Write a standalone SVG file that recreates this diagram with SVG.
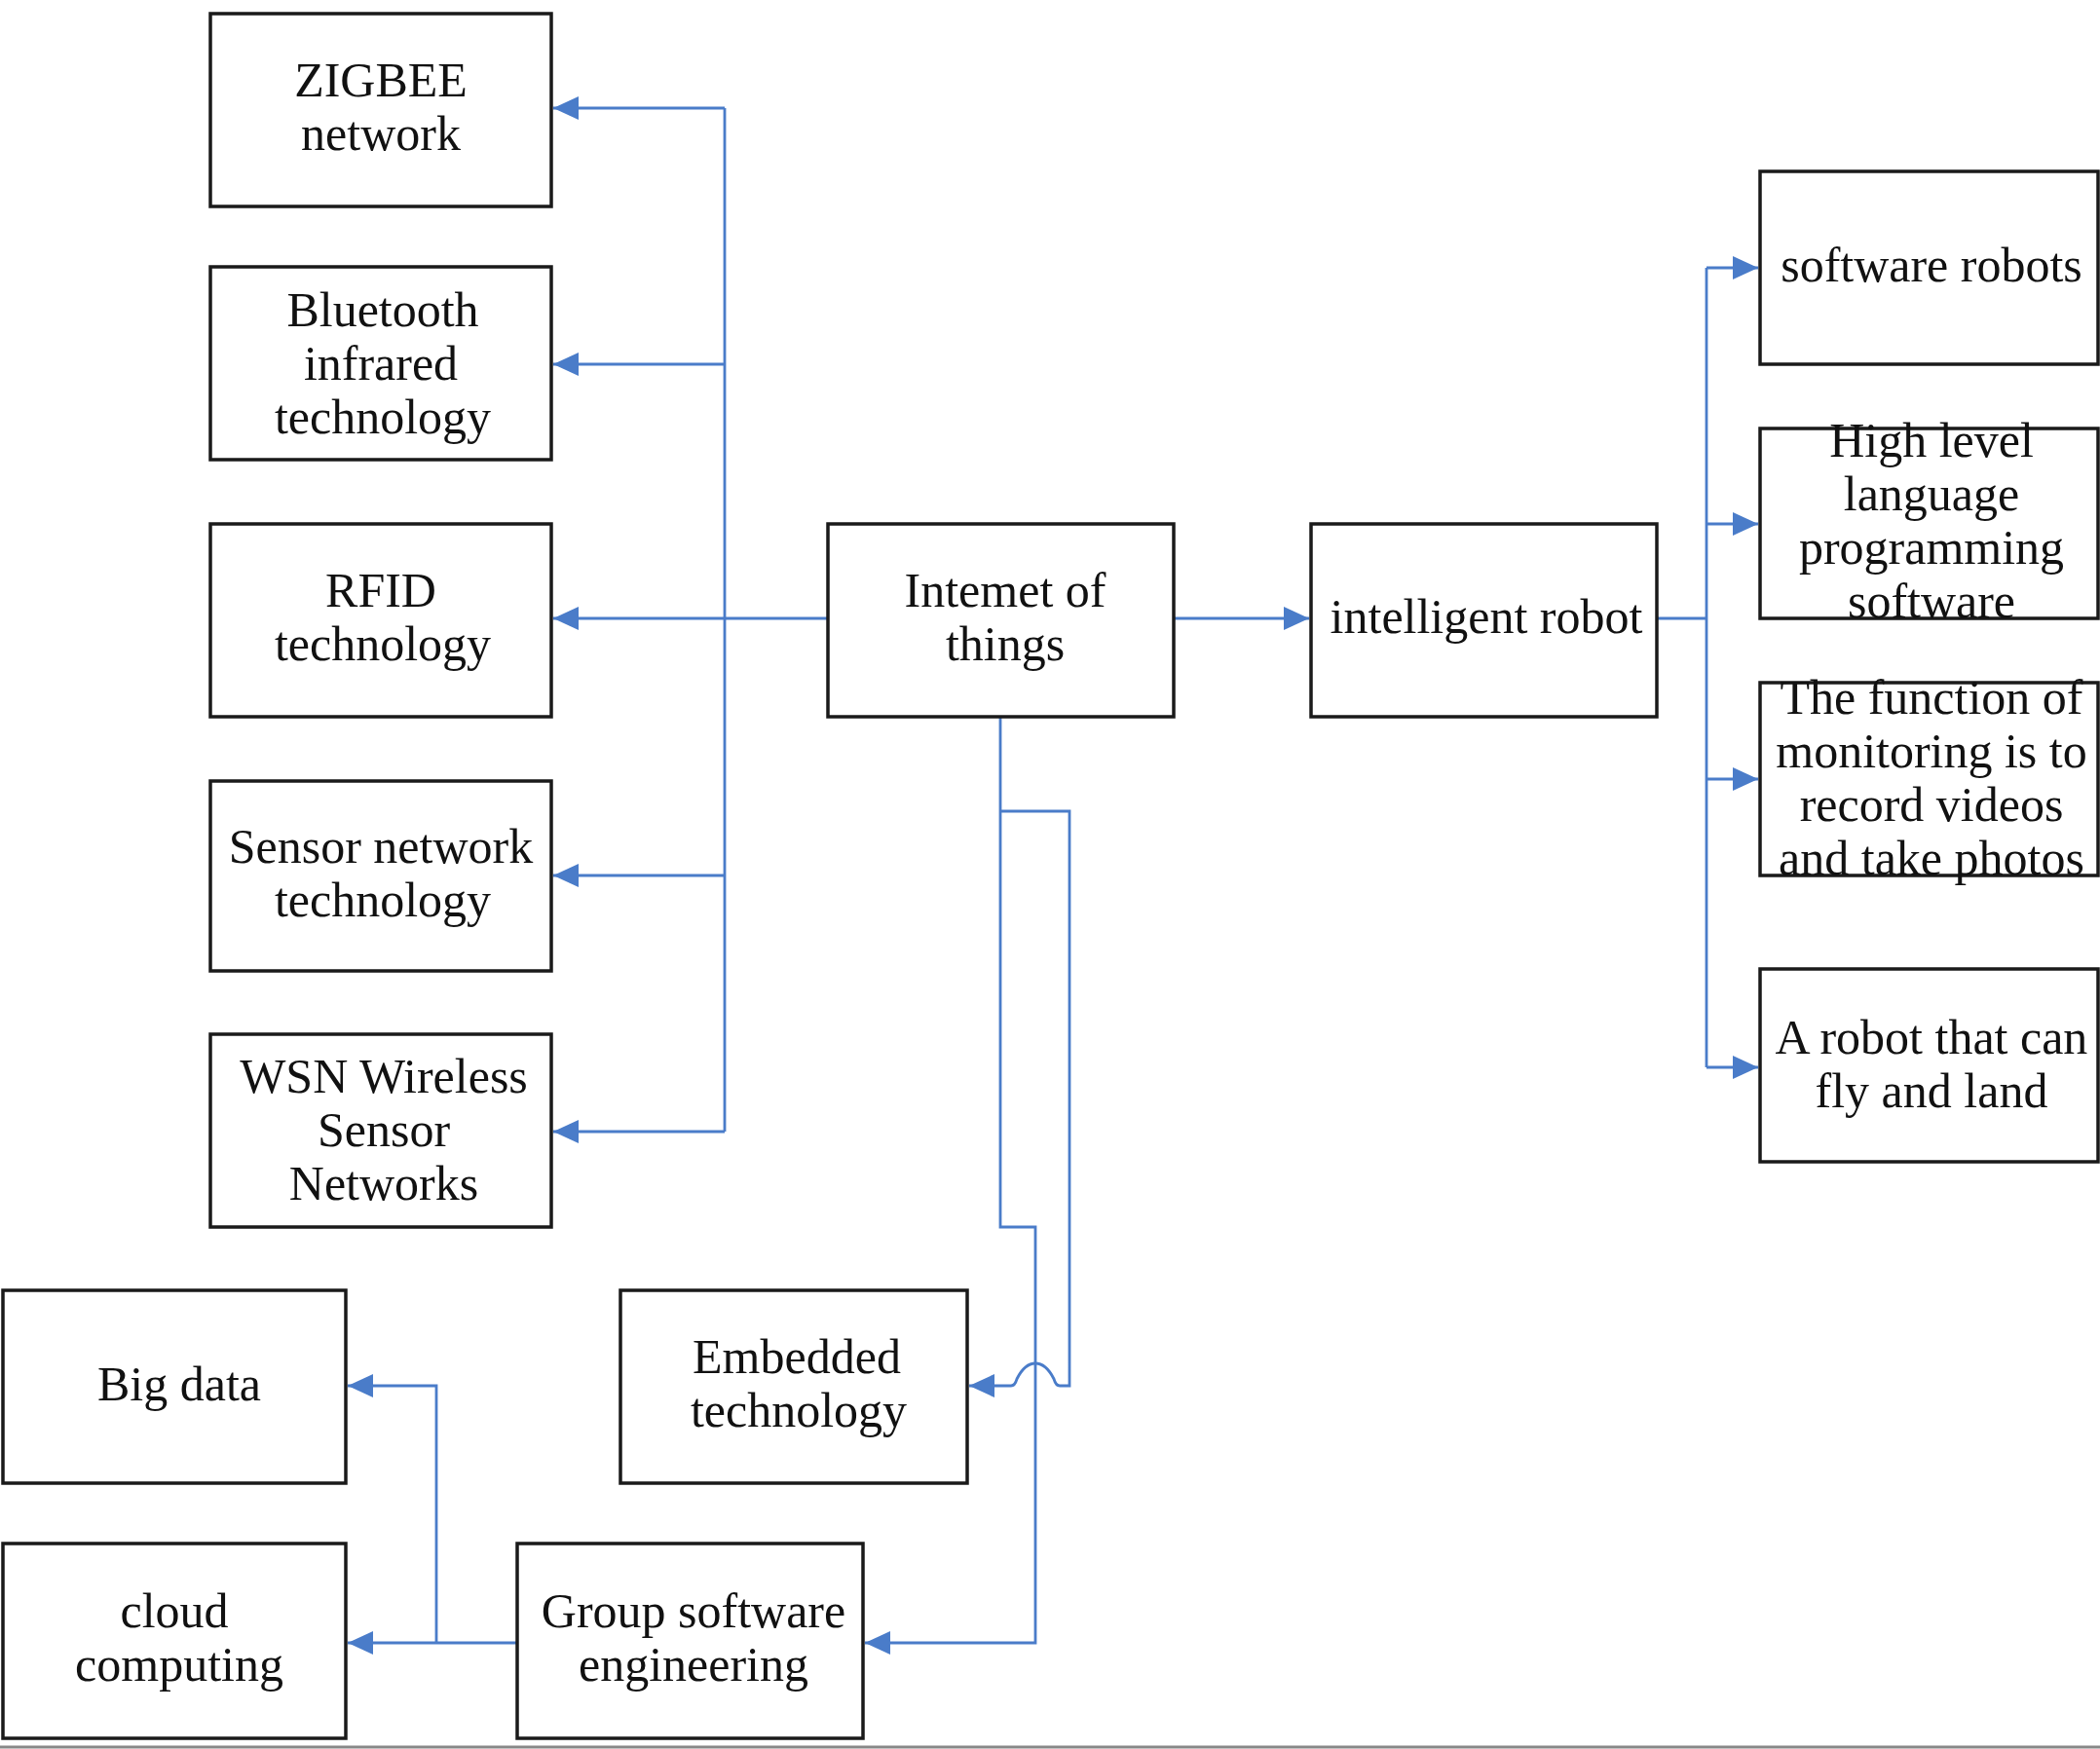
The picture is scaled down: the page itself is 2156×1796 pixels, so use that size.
<svg xmlns="http://www.w3.org/2000/svg" width="2156" height="1796" viewBox="0 0 2156 1796">
<style>
.box{fill:#fff;stroke:#1a1a1a;stroke-width:3.5}
.t{font-family:"Liberation Serif","Times New Roman",serif;font-size:50px;fill:#111;text-anchor:middle}
.c{fill:none;stroke:#4a7cc9;stroke-width:2.8}
</style>
<defs>
<marker id="ah" markerUnits="userSpaceOnUse" markerWidth="28" markerHeight="24" refX="26" refY="12" orient="auto">
<path d="M0 0 L26 12 L0 24 Z" fill="#4a7cc9"/>
</marker>
</defs>
<rect width="2156" height="1796" fill="#fff"/>
<line x1="0" y1="1794" x2="2156" y2="1794" stroke="#888" stroke-width="3"/>
<g id="connectors">
<path class="c" d="M850 635 H744"/>
<path class="c" d="M744 111 V1162"/>
<path class="c" d="M744 111 H568" marker-end="url(#ah)"/>
<path class="c" d="M744 374 H568" marker-end="url(#ah)"/>
<path class="c" d="M744 635 H568" marker-end="url(#ah)"/>
<path class="c" d="M744 899 H568" marker-end="url(#ah)"/>
<path class="c" d="M744 1162 H568" marker-end="url(#ah)"/>
<path class="c" d="M1205 635 H1344" marker-end="url(#ah)"/>
<path class="c" d="M1701 635 H1752"/>
<path class="c" d="M1752 275 V1096"/>
<path class="c" d="M1752 275 H1805" marker-end="url(#ah)"/>
<path class="c" d="M1752 538 H1805" marker-end="url(#ah)"/>
<path class="c" d="M1752 800 H1805" marker-end="url(#ah)"/>
<path class="c" d="M1752 1096 H1805" marker-end="url(#ah)"/>
<path class="c" d="M1027 736 V1260 H1063 V1687 H888" marker-end="url(#ah)"/>
<path class="c" d="M1027 833 H1098 V1423 H1088 Q1084 1423 1082 1416 Q1074 1400 1063 1400 Q1052 1400 1044 1416 Q1042 1423 1038 1423 H995" marker-end="url(#ah)"/>
<path class="c" d="M531 1687 H357" marker-end="url(#ah)"/>
<path class="c" d="M448 1687 V1423 H357" marker-end="url(#ah)"/>
</g>
<g id="zigbee"><rect class="box" x="216" y="14" width="350" height="198"/><text class="t" x="391" y="99">ZIGBEE</text><text class="t" x="391" y="154">network</text></g>
<g id="bluetooth"><rect class="box" x="216" y="274" width="350" height="198"/><text class="t" x="393" y="335">Bluetooth</text><text class="t" x="391" y="390">infrared</text><text class="t" x="393" y="445">technology</text></g>
<g id="rfid"><rect class="box" x="216" y="538" width="350" height="198"/><text class="t" x="391" y="623">RFID</text><text class="t" x="393" y="678">technology</text></g>
<g id="sensor"><rect class="box" x="216" y="802" width="350" height="195"/><text class="t" x="391" y="886">Sensor network</text><text class="t" x="393" y="941">technology</text></g>
<g id="wsn"><rect class="box" x="216" y="1062" width="350" height="198"/><text class="t" x="394" y="1122">WSN Wireless</text><text class="t" x="394" y="1177">Sensor</text><text class="t" x="394" y="1232">Networks</text></g>
<g id="iot"><rect class="box" x="850" y="538" width="355" height="198"/><text class="t" x="1032" y="623">Intemet of</text><text class="t" x="1032" y="678">things</text></g>
<g id="robot"><rect class="box" x="1346" y="538" width="355" height="198"/><text class="t" x="1526" y="650">intelligent robot</text></g>
<g id="swrobots"><rect class="box" x="1807" y="176" width="347" height="198"/><text class="t" x="1983" y="289">software robots</text></g>
<g id="highlevel"><rect class="box" x="1807" y="440" width="347" height="195"/><text class="t" x="1983" y="469">High level</text><text class="t" x="1983" y="524">language</text><text class="t" x="1983" y="579">programming</text><text class="t" x="1983" y="634">software</text></g>
<g id="function"><rect class="box" x="1807" y="701" width="347" height="198"/><text class="t" x="1983" y="733">The function of</text><text class="t" x="1983" y="788">monitoring is to</text><text class="t" x="1983" y="843">record videos</text><text class="t" x="1983" y="898">and take photos</text></g>
<g id="fly"><rect class="box" x="1807" y="995" width="347" height="198"/><text class="t" x="1983" y="1082">A robot that can</text><text class="t" x="1983" y="1137">fly and land</text></g>
<g id="embedded"><rect class="box" x="637" y="1325" width="356" height="198"/><text class="t" x="818" y="1410">Embedded</text><text class="t" x="820" y="1465">technology</text></g>
<g id="bigdata"><rect class="box" x="3" y="1325" width="352" height="198"/><text class="t" x="184" y="1438">Big data</text></g>
<g id="cloud"><rect class="box" x="3" y="1585" width="352" height="200"/><text class="t" x="179" y="1671">cloud</text><text class="t" x="184" y="1726">computing</text></g>
<g id="group"><rect class="box" x="531" y="1585" width="355" height="200"/><text class="t" x="712" y="1671">Group software</text><text class="t" x="712" y="1726">engineering</text></g>
</svg>
